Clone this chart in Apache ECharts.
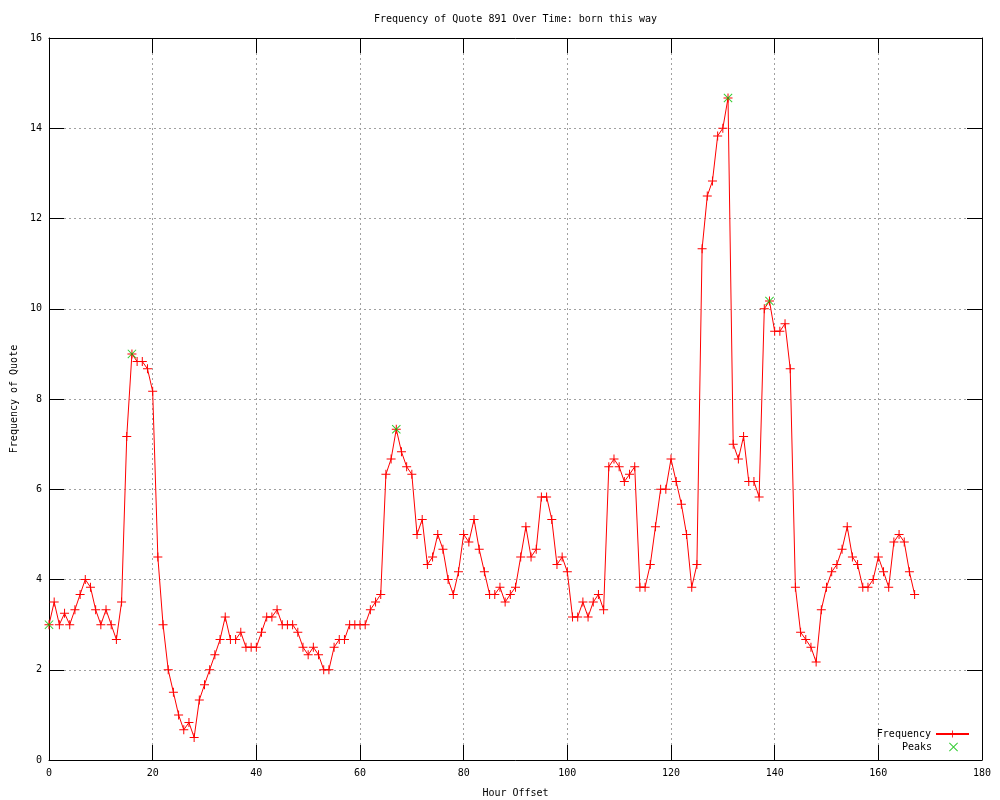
<!DOCTYPE html>
<html>
<head>
<meta charset="utf-8">
<script src="https://cdn.jsdelivr.net/npm/echarts@6/dist/echarts.min.js"></script>
<style>html,body{margin:0;padding:0;background:#fff}#c{width:1000px;height:800px}</style>
</head>
<body>
<div id="c"></div>
<script>
const hours = [0,1,2,3,4,5,6,7,8,9,10,11,12,13,14,15,16,17,18,19,20,21,22,23,24,25,26,27,28,29,30,31,32,33,34,35,36,37,38,39,40,41,42,43,44,45,46,47,48,49,50,51,52,53,54,55,56,57,58,59,60,61,62,63,64,65,66,67,68,69,70,71,72,73,74,75,76,77,78,79,80,81,82,83,84,85,86,87,88,89,90,91,92,93,94,95,96,97,98,99,100,101,102,103,104,105,106,107,108,109,110,111,112,113,114,115,116,117,118,119,120,121,122,123,124,125,126,127,128,129,130,131,132,133,134,135,136,137,138,139,140,141,142,143,144,145,146,147,148,149,150,151,152,153,154,155,156,157,158,159,160,161,162,163,164,165,166,167];
const frequency = [3.0,3.5,3.0,3.25,3.0,3.33,3.67,4.0,3.83,3.33,3.0,3.33,3.0,2.67,3.5,7.17,9.0,8.83,8.83,8.67,8.17,4.5,3.0,2.0,1.5,1.0,0.67,0.83,0.5,1.33,1.67,2.0,2.33,2.67,3.17,2.67,2.67,2.83,2.5,2.5,2.5,2.83,3.17,3.17,3.33,3.0,3.0,3.0,2.83,2.5,2.33,2.5,2.33,2.0,2.0,2.5,2.67,2.67,3.0,3.0,3.0,3.0,3.33,3.5,3.67,6.33,6.67,7.33,6.83,6.5,6.33,5.0,5.33,4.33,4.5,5.0,4.67,4.0,3.67,4.17,5.0,4.83,5.33,4.67,4.17,3.67,3.67,3.83,3.5,3.67,3.83,4.5,5.17,4.5,4.67,5.83,5.83,5.33,4.33,4.5,4.17,3.17,3.17,3.5,3.17,3.5,3.67,3.33,6.5,6.67,6.5,6.17,6.33,6.5,3.83,3.83,4.33,5.17,6.0,6.0,6.67,6.17,5.67,5.0,3.83,4.33,11.33,12.5,12.83,13.83,14.0,14.67,7.0,6.67,7.17,6.17,6.17,5.83,10.0,10.17,9.5,9.5,9.67,8.67,3.83,2.83,2.67,2.5,2.17,3.33,3.83,4.17,4.33,4.67,5.17,4.5,4.33,3.83,3.83,4.0,4.5,4.17,3.83,4.83,5.0,4.83,4.17,3.67];
const peakHours = [0,16,67,131,139];
const peakValues = [3.0,9.0,7.33,14.67,10.17];
const xTicks = {min:0, max:180, interval:20};
const yTicks = {min:0, max:16, interval:2};

const FONT = 'DejaVu Sans Mono';
const plusPath = 'path://M4,0H5V4H9V5H5V9H4V5H0V4H4Z';
const xPath = 'path://M0,0.7L0.7,0L4.5,3.8L8.3,0L9,0.7L5.2,4.5L9,8.3L8.3,9L4.5,5.2L0.7,9L0,8.3L3.8,4.5Z';

const chart = echarts.init(document.getElementById('c'), null, {renderer:'canvas'});
const axisCommon = {
  axisLine:{show:true, onZero:false, lineStyle:{color:'#000', width:1}},
  axisTick:{show:true, inside:true, length:15, lineStyle:{color:'#000', width:1}},
};
chart.setOption({
  animation:false,
  backgroundColor:'#fff',
  textStyle:{fontFamily:FONT},
  title:{
    text:'Frequency of Quote 891 Over Time: born this way',
    left:369, top:9,
    textStyle:{fontFamily:FONT, fontSize:10, fontWeight:'normal', color:'#000'}
  },
  grid:{left:49, right:18, top:38, bottom:40, containLabel:false, outerBoundsMode:'none'},
  legend:[
    {data:['Frequency'], right:30, top:729, orient:'vertical', align:'right', itemWidth:33, itemHeight:9, padding:0,
     textStyle:{fontFamily:FONT, fontSize:10, color:'#000'}},
    {data:['Peaks'], right:42, top:742, orient:'vertical', align:'right', itemWidth:33, itemHeight:9, padding:0,
     textStyle:{fontFamily:FONT, fontSize:10, color:'#000'}}
  ],
  xAxis:[
    Object.assign({type:'value', position:'bottom', min:xTicks.min, max:xTicks.max, interval:xTicks.interval,
      name:'Hour Offset', nameLocation:'middle', nameGap:28,
      nameTextStyle:{fontFamily:FONT, fontSize:10, color:'#000'},
      axisLabel:{fontFamily:FONT, fontSize:10, color:'#000', margin:8},
      splitLine:{show:true, lineStyle:{color:'#a0a0a0', type:[2,3], width:1}}}, axisCommon),
    Object.assign({type:'value', position:'top', min:xTicks.min, max:xTicks.max, interval:xTicks.interval,
      axisLabel:{show:false}, splitLine:{show:false}}, axisCommon)
  ],
  yAxis:[
    Object.assign({type:'value', position:'left', min:yTicks.min, max:yTicks.max, interval:yTicks.interval,
      name:'Frequency of Quote', nameLocation:'middle', nameGap:30, nameRotate:90,
      nameTextStyle:{fontFamily:FONT, fontSize:10, color:'#000'},
      axisLabel:{fontFamily:FONT, fontSize:10, color:'#000', margin:7},
      splitLine:{show:true, lineStyle:{color:'#a0a0a0', type:[2,3], width:1}}}, axisCommon),
    Object.assign({type:'value', position:'right', min:yTicks.min, max:yTicks.max, interval:yTicks.interval,
      axisLabel:{show:false}, splitLine:{show:false}}, axisCommon)
  ],
  series:[
    {
      name:'Frequency', type:'line',
      data: hours.map((h,i)=>[h, frequency[i]]),
      symbol: plusPath, symbolSize:9, showSymbol:true, showAllSymbol:true,
      lineStyle:{color:'#ff0000', width:1},
      itemStyle:{color:'#ff0000'},
      emphasis:{disabled:true}, z:2
    },
    {
      name:'Peaks', type:'scatter',
      data: peakHours.map((h,i)=>[h, peakValues[i]]),
      symbol: xPath, symbolSize:9,
      itemStyle:{color:'#00c000'},
      emphasis:{disabled:true}, z:3
    }
  ]
});
</script>
</body>
</html>
